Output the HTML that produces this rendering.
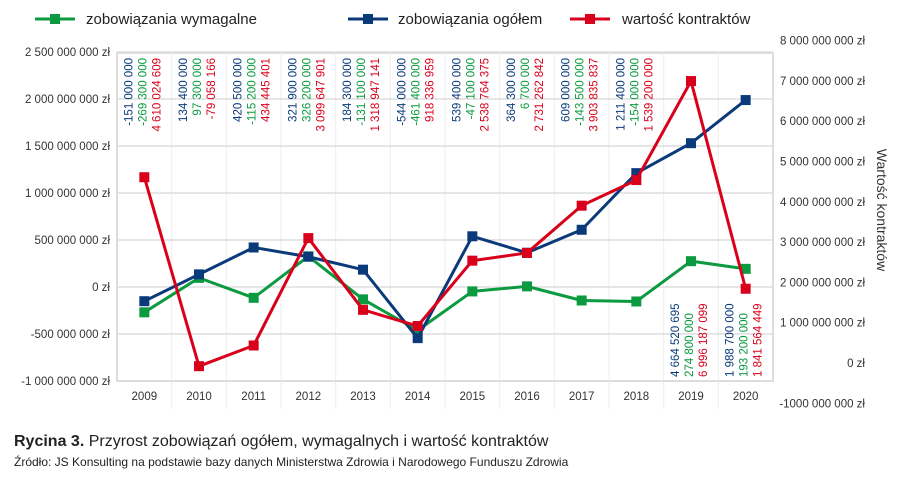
<!DOCTYPE html>
<html><head><meta charset="utf-8">
<style>
body{margin:0;background:#fff;font-family:"Liberation Sans",sans-serif;}
svg text{font-family:"Liberation Sans",sans-serif;}
</style></head>
<body>
<svg id="chart" width="900" height="480" viewBox="0 0 900 480" xmlns="http://www.w3.org/2000/svg">
<g id="grid"></g>
<g id="axes"></g>
<g id="series"></g>
<g id="labels"></g>
<g>
 <g>
  <line x1="35" y1="19" x2="75" y2="19" stroke="#0b9a3f" stroke-width="3"/><rect x="50" y="14" width="10" height="10" fill="#0b9a3f"/>
  <text x="86" y="24" font-size="15" fill="#222">zobowiązania wymagalne</text></g>
 <g>
  <line x1="348" y1="19" x2="388" y2="19" stroke="#0a3a7a" stroke-width="3"/><rect x="363" y="14" width="10" height="10" fill="#0a3a7a"/>
  <text x="398" y="24" font-size="15" fill="#222">zobowiązania ogółem</text></g>
 <g>
  <line x1="570" y1="19" x2="610" y2="19" stroke="#d9001b" stroke-width="3"/><rect x="585" y="14" width="10" height="10" fill="#d9001b"/>
  <text x="622" y="24" font-size="15" fill="#222">wartość kontraktów</text></g>
</g>
<text transform="translate(877,210) rotate(90)" text-anchor="middle" font-size="14" fill="#333">Wartość kontraktów</text>
<text x="14" y="446" font-size="16" fill="#222"><tspan font-weight="bold">Rycina 3.</tspan> Przyrost zobowiązań ogółem, wymagalnych i wartość kontraktów</text>
<text x="14" y="466" font-size="12" fill="#222">Źródło: JS Konsulting na podstawie bazy danych Ministerstwa Zdrowia i Narodowego Funduszu Zdrowia</text>
</svg>
<script>
const years=["2009","2010","2011","2012","2013","2014","2015","2016","2017","2018","2019","2020"];
const ogolem=[-151,134.4,420.5,321.9,184.3,-544,539.4,364.3,609,1211.4,1530,1988.7];
const wymagalne=[-269.3,97.3,-115.2,326.2,-131.1,-461.4,-47.1,6.7,-143.5,-154,274.8,193.2];
const kontrakty=[4610,-79,434,3100,1319,918,2539,2731,3904,4539,6996,1842];
const labOgolem=["-151 000 000","134 400 000","420 500 000","321 900 000","184 300 000","-544 000 000","539 400 000","364 300 000","609 000 000","1 211 400 000","4 664 520 695","1 988 700 000"];
const labWym=["-269 300 000","97 300 000","-115 200 000","326 200 000","-131 100 000","-461 400 000","-47 100 000","6 700 000","-143 500 000","-154 000 000","274 800 000","193 200 000"];
const labKon=["4 610 024 609","-79 058 166","434 445 401","3 099 647 901","1 318 947 141","918 336 959","2 538 764 375","2 731 262 842","3 903 835 837","1 539 200 000","6 996 187 099","1 841 564 449"];
const leftTicks=[2500,2000,1500,1000,500,0,-500,-1000];
const leftTickLabels=["2 500 000 000 zł","2 000 000 000 zł","1 500 000 000 zł","1 000 000 000 zł","500 000 000 zł","0 zł","-500 000 000 zł","-1 000 000 000 zł"];
const rightTicks=[8000,7000,6000,5000,4000,3000,2000,1000,0,-1000];
const rightTickLabels=["8 000 000 000 zł","7 000 000 000 zł","6 000 000 000 zł","5 000 000 000 zł","4 000 000 000 zł","3 000 000 000 zł","2 000 000 000 zł","1 000 000 000 zł","0 zł","-1000 000 000 zł"];

const NS="http://www.w3.org/2000/svg";
const L=117,R=773,T=53,B=381;
const bw=(R-L)/years.length;
const x=i=>L+bw*(i+0.5);
const yL=v=>287-v*(94/1000);
const yR=v=>363-v*(40.3/1000);
function mk(tag,attrs,parent){const e=document.createElementNS(NS,tag);for(const k in attrs)e.setAttribute(k,attrs[k]);parent.appendChild(e);return e;}
const grid=document.getElementById('grid'),axes=document.getElementById('axes'),ser=document.getElementById('series'),labs=document.getElementById('labels');
mk('rect',{x:L,y:T,width:R-L,height:B-T,fill:'none',stroke:'#ddd','stroke-width':2},grid);
for(let i=1;i<years.length;i++)mk('line',{x1:L+bw*i,y1:T,x2:L+bw*i,y2:B+28,stroke:'#eee','stroke-width':1},grid);
leftTicks.forEach((v,i)=>{
 const g=mk('line',{x1:L,y1:yL(v),x2:R,y2:yL(v),stroke:'#ddd','stroke-width':1.5},grid);
 
 const t=mk('text',{x:110,y:yL(v)+4,'text-anchor':'end','font-size':11.5,fill:'#333'},axes);t.textContent=leftTickLabels[i];
 
});
rightTicks.forEach((v,i)=>{
 const t=mk('text',{x:865,y:yR(v)+4,'text-anchor':'end','font-size':11.5,fill:'#333'},axes);t.textContent=rightTickLabels[i];
 
});
years.forEach((yv,i)=>{
 const t=mk('text',{x:x(i),y:400,'text-anchor':'middle','font-size':11.5,fill:'#333'},axes);t.textContent=yv;
 
});
function series(vals,fy,color,name){
 const p=mk('polyline',{points:vals.map((v,i)=>x(i)+','+fy(v)).join(' '),fill:'none',stroke:color,'stroke-width':3,'stroke-linejoin':'round'},ser);
 
 vals.forEach((v,i)=>{const r=mk('rect',{x:x(i)-5,y:fy(v)-5,width:10,height:10,fill:color},ser);
  });
}
series(wymagalne,yL,'#0b9a3f','wymagalne');
series(ogolem,yL,'#0a3a7a','ogolem');
series(kontrakty,yR,'#d9001b','kontrakty');
const cols=[[labOgolem,'#0a3a7a',-14],[labWym,'#0b9a3f',0],[labKon,'#d9001b',14]];
years.forEach((yv,i)=>{
 cols.forEach(([arr,c,dx])=>{
  const top=i<10;
  const cx=x(i)+dx+2;
  const t=mk('text',{transform:`translate(${cx},${top?58:377}) rotate(-90)`,'text-anchor':top?'end':'start','font-size':11.5,fill:c},labs);
  t.textContent=arr[i];
  
 });
});
</script>
</body></html>
